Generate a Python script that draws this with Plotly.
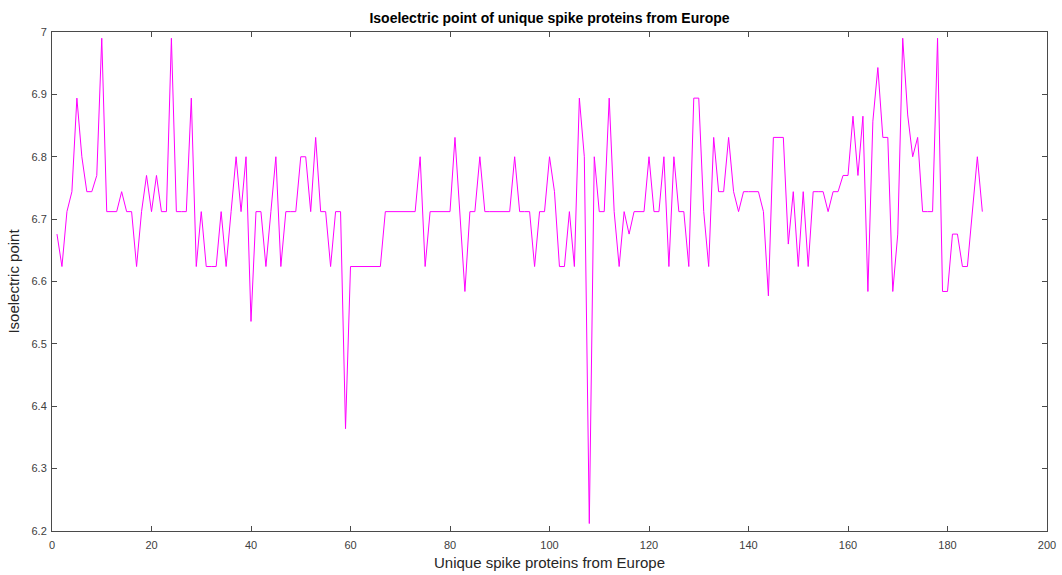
import plotly.graph_objects as go

# Isoelectric point (pI) of each unique spike protein sequence, indexed 1..N
protein_index = list(range(1, 188))
isoelectric_point = [
    6.676, 6.624, 6.712, 6.744, 6.894, 6.800, 6.744, 6.744, 6.770, 6.990,
    6.712, 6.712, 6.712, 6.744, 6.712, 6.712, 6.624, 6.712, 6.770, 6.712,
    6.770, 6.712, 6.712, 6.990, 6.712, 6.712, 6.712, 6.894, 6.624, 6.712,
    6.624, 6.624, 6.624, 6.712, 6.624, 6.712, 6.800, 6.712, 6.800, 6.536,
    6.712, 6.712, 6.624, 6.712, 6.800, 6.624, 6.712, 6.712, 6.712, 6.800,
    6.800, 6.712, 6.831, 6.712, 6.712, 6.624, 6.712, 6.712, 6.364, 6.624,
    6.624, 6.624, 6.624, 6.624, 6.624, 6.624, 6.712, 6.712, 6.712, 6.712,
    6.712, 6.712, 6.712, 6.800, 6.624, 6.712, 6.712, 6.712, 6.712, 6.712,
    6.831, 6.712, 6.584, 6.712, 6.712, 6.800, 6.712, 6.712, 6.712, 6.712,
    6.712, 6.712, 6.800, 6.712, 6.712, 6.712, 6.624, 6.712, 6.712, 6.800,
    6.744, 6.624, 6.624, 6.712, 6.624, 6.894, 6.800, 6.212, 6.800, 6.712,
    6.712, 6.894, 6.712, 6.624, 6.712, 6.676, 6.712, 6.712, 6.712, 6.800,
    6.712, 6.712, 6.800, 6.624, 6.800, 6.712, 6.712, 6.624, 6.894, 6.894,
    6.712, 6.624, 6.831, 6.744, 6.744, 6.831, 6.744, 6.712, 6.744, 6.744,
    6.744, 6.744, 6.712, 6.577, 6.831, 6.831, 6.831, 6.660, 6.744, 6.624,
    6.744, 6.624, 6.744, 6.744, 6.744, 6.712, 6.744, 6.744, 6.770, 6.770,
    6.865, 6.770, 6.865, 6.584, 6.857, 6.943, 6.831, 6.831, 6.584, 6.676,
    6.990, 6.867, 6.800, 6.831, 6.712, 6.712, 6.712, 6.990, 6.584, 6.584,
    6.676, 6.676, 6.624, 6.624, 6.712, 6.800, 6.712,
]

x_ticks = [0, 20, 40, 60, 80, 100, 120, 140, 160, 180, 200]
y_ticks = [6.2, 6.3, 6.4, 6.5, 6.6, 6.7, 6.8, 6.9, 7.0]
y_tick_labels = ["6.2", "6.3", "6.4", "6.5", "6.6", "6.7", "6.8", "6.9", "7"]

axis_color = "#4a4a4a"
text_color = "#262626"
tick_text_color = "#404040"
font_family = "Liberation Sans, Arial, Helvetica, sans-serif"

fig = go.Figure(
    go.Scatter(
        x=protein_index,
        y=isoelectric_point,
        mode="lines",
        line=dict(color="#ff00ff", width=1),
        hoverinfo="x+y",
    )
)

axis_common = dict(
    showgrid=False,
    zeroline=False,
    showline=True,
    linecolor=axis_color,
    linewidth=1,
    mirror="ticks",
    ticks="inside",
    ticklen=5,
    tickwidth=1,
    tickcolor=axis_color,
    automargin=False,
    tickfont=dict(family=font_family, size=11, color=tick_text_color),
)

fig.update_xaxes(
    range=[0, 200],
    tickvals=x_ticks,
    ticklabelstandoff=4,
    title=dict(
        text="Unique spike proteins from Europe",
        font=dict(family=font_family, size=15, color=text_color),
        standoff=7,
    ),
    **axis_common,
)
fig.update_yaxes(
    range=[6.2, 7.0],
    tickvals=y_ticks,
    ticktext=y_tick_labels,
    ticklabelstandoff=2,
    title=dict(
        text="Isoelectric point",
        font=dict(family=font_family, size=15, color=text_color),
        standoff=8,
    ),
    **axis_common,
)

fig.update_layout(
    width=1062,
    height=575,
    margin=dict(l=52, r=15, t=32, b=44),
    paper_bgcolor="white",
    plot_bgcolor="white",
    showlegend=False,
    title=dict(
        text="<b>Isoelectric point of unique spike proteins from Europe</b>",
        font=dict(family=font_family, size=14, color="#000000"),
        x=0.5,
        xref="paper",
        xanchor="center",
        y=1 - 18 / 575,
        yref="container",
        yanchor="middle",
    ),
)

fig.write_html("out.html")
